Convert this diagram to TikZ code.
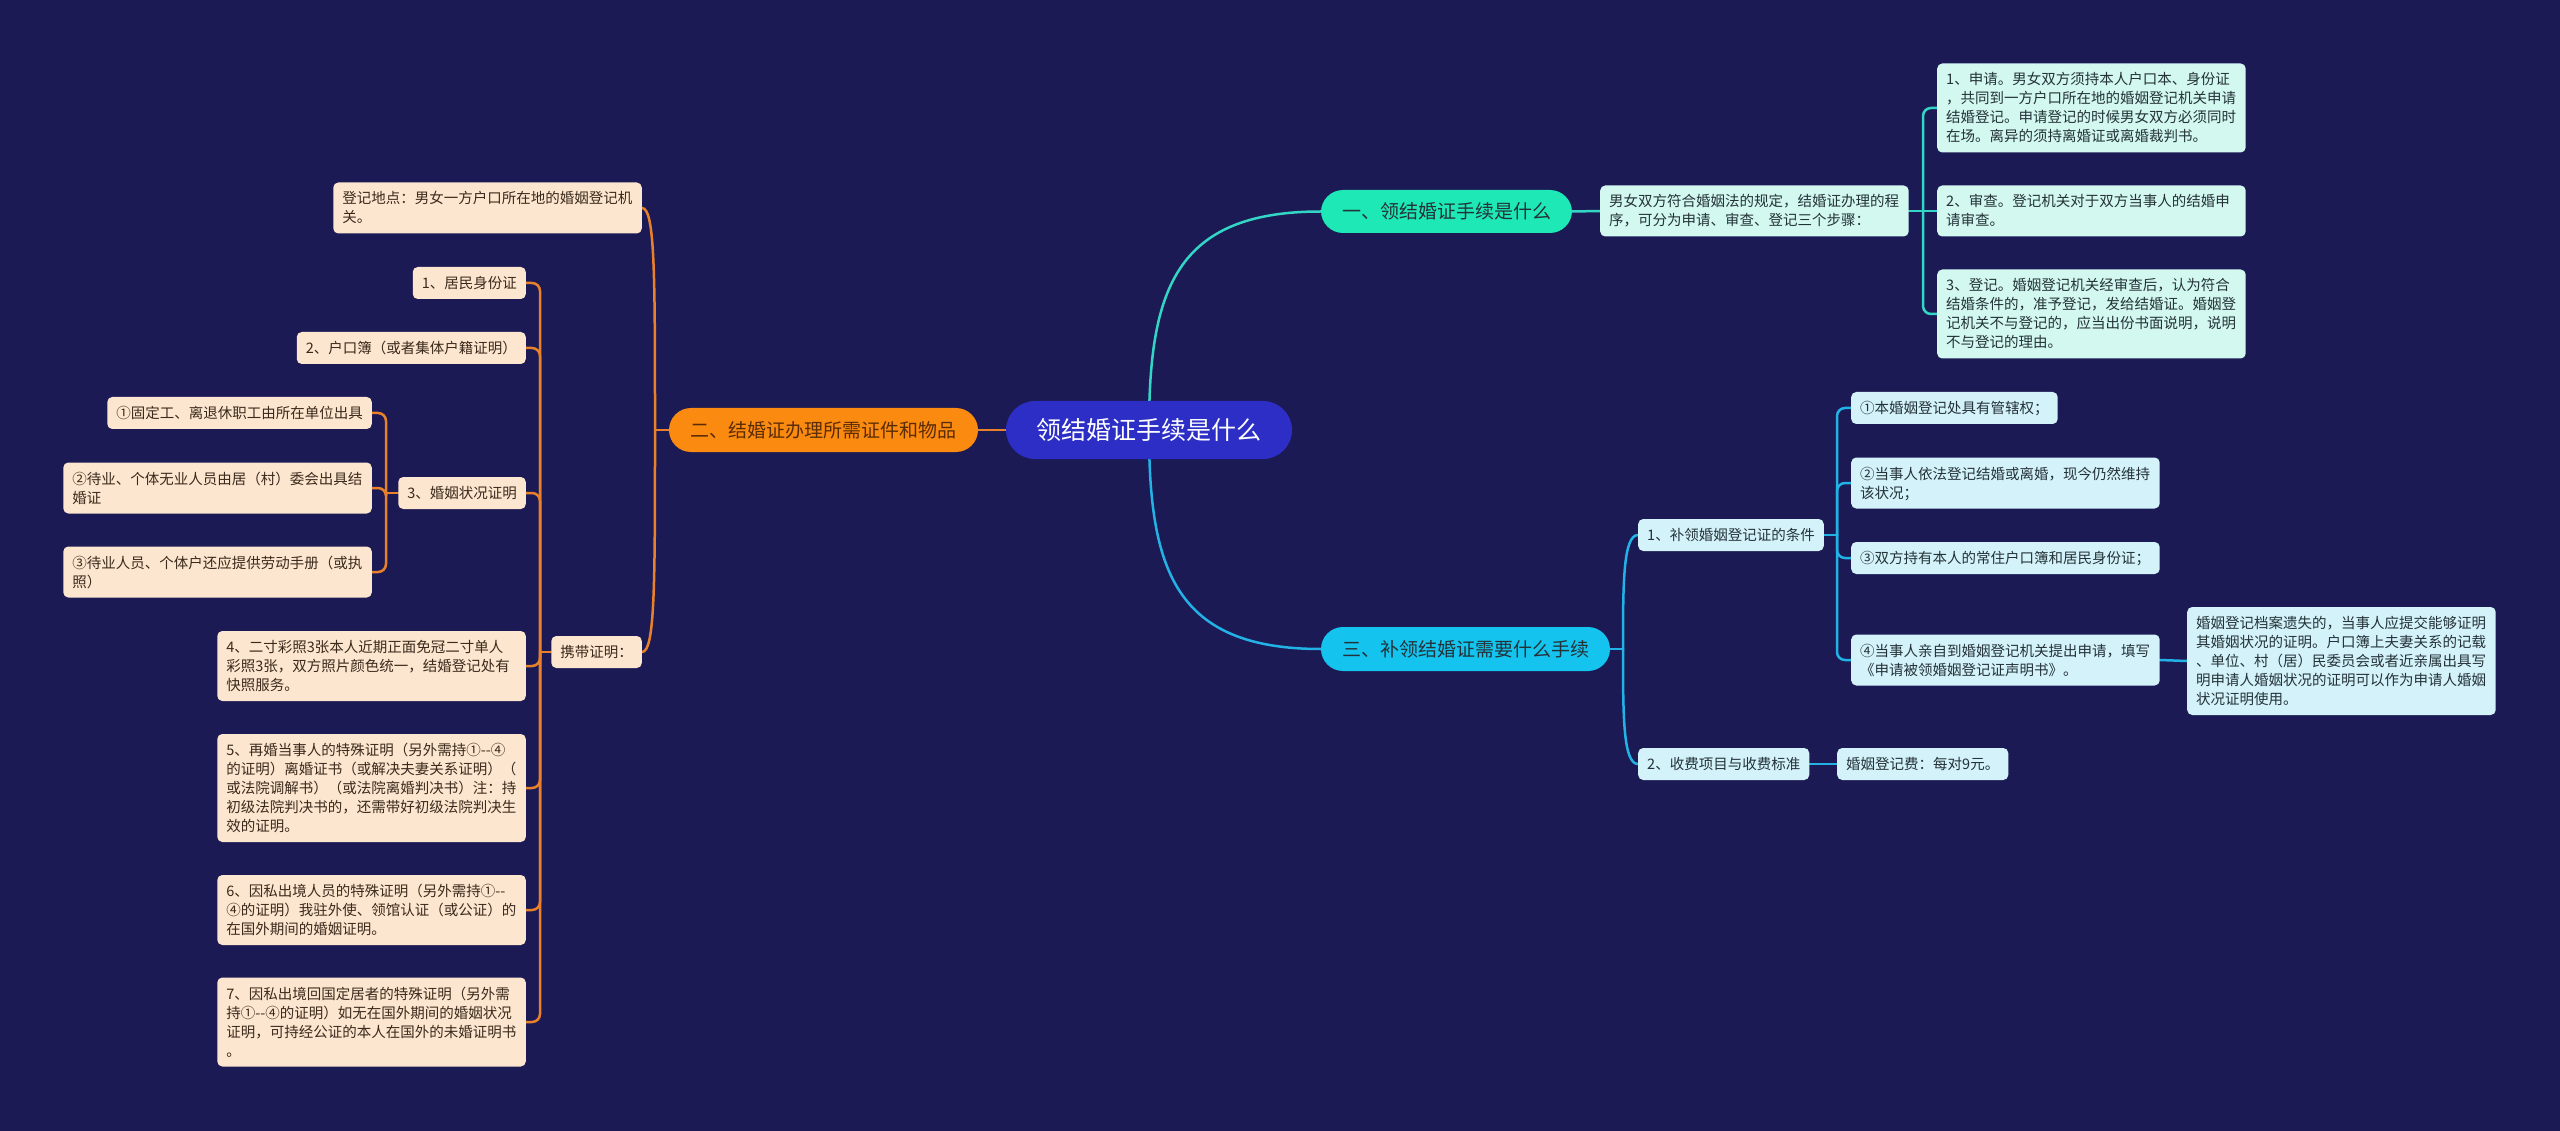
\documentclass[tikz,border=0pt]{standalone}
\usepackage{fontspec}
\setmainfont{Noto Sans CJK SC}
\pgfdeclarelayer{back}
\pgfdeclarelayer{bg}
\pgfsetlayers{back,bg,main}
\definecolor{bgc}{HTML}{1B1A54}
\definecolor{rootc}{HTML}{2C2EC6}
\definecolor{orc}{HTML}{FB8A10}
\definecolor{orline}{HTML}{E9812C}
\definecolor{peach}{HTML}{FDE6CF}
\definecolor{brownt}{HTML}{3A2A1C}
\definecolor{orantext}{HTML}{5A2C05}
\definecolor{tealc}{HTML}{1DE8B6}
\definecolor{tealline}{HTML}{33D5C5}
\definecolor{mint}{HTML}{D2F8F0}
\definecolor{cyanc}{HTML}{14C4EE}
\definecolor{cyanline}{HTML}{22B2E6}
\definecolor{ice}{HTML}{D4F2FA}
\definecolor{darkt}{HTML}{243238}
\newcommand\lf{\fontsize{14.5pt}{19pt}\selectfont}
\newcommand\zs{\vrule width0pt height15pt depth4pt}
\newcommand\dd{-{}-}
\tikzset{
  leaf/.style={rounded corners=5pt, inner xsep=9pt, inner ysep=6.5pt, font=\lf, align=left, text=darkt},
  mleaf/.style={leaf, text width=290.5pt},
  pleaf/.style={fill=peach, text=brownt},
  tleaf/.style={fill=mint},
  cleaf/.style={fill=ice},
  mainnode/.style={rounded corners=22pt, inner sep=0pt, minimum height=44pt, font=\fontsize{19pt}{22pt}\selectfont},
  conn/.style={line width=2.5pt, line cap=round},
  oline/.style={conn, draw=orline},
  tline/.style={conn, draw=tealline},
  cline/.style={conn, draw=cyanline},
}
\begin{document}
\begin{tikzpicture}[x=1pt,y=-1pt]
\begin{pgfonlayer}{back}
\fill[bgc] (0,0) rectangle (2560,1131);
\end{pgfonlayer}
\useasboundingbox (0,0) rectangle (2560,1131);

% main nodes
\node[mainnode, fill=rootc, text=white, minimum width=286pt, minimum height=58pt, rounded corners=29pt, font=\fontsize{25pt}{28pt}\selectfont] (root) at (1149,430) {领结婚证手续是什么};
\node[mainnode, fill=orc, text=orantext, minimum width=309pt] (org) at (823.5,430) {二、结婚证办理所需证件和物品};
\node[mainnode, fill=tealc, text=darkt, minimum width=251pt, minimum height=43pt] (teal) at (1446.5,211.5) {一、领结婚证手续是什么};
\node[mainnode, fill=cyanc, text=darkt, minimum width=289pt] (cyan) at (1465.5,649) {三、补领结婚证需要什么手续};

% right top
\node[mleaf, tleaf, anchor=west] (rt0) at (1600,211) {\zs 男女双方符合婚姻法的规定，结婚证办理的程\\\zs 序，可分为申请、审查、登记三个步骤：};
\node[mleaf, tleaf, anchor=west] (rt1) at (1937,108) {\zs 1、申请。男女双方须持本人户口本、身份证\\\zs ，共同到一方户口所在地的婚姻登记机关申请\\\zs 结婚登记。申请登记的时候男女双方必须同时\\\zs 在场。离异的须持离婚证或离婚裁判书。};
\node[mleaf, tleaf, anchor=west] (rt2) at (1937,211) {\zs 2、审查。登记机关对于双方当事人的结婚申\\\zs 请审查。};
\node[mleaf, tleaf, anchor=west] (rt3) at (1937,314) {\zs 3、登记。婚姻登记机关经审查后，认为符合\\\zs 结婚条件的，准予登记，发给结婚证。婚姻登\\\zs 记机关不与登记的，应当出份书面说明，说明\\\zs 不与登记的理由。};

% right bottom
\node[leaf, cleaf, anchor=west] (bl1) at (1638,535) {\zs 1、补领婚姻登记证的条件};
\node[leaf, cleaf, anchor=west] (c1) at (1851,408) {\zs ①本婚姻登记处具有管辖权；};
\node[mleaf, cleaf, anchor=west] (c2) at (1851,483) {\zs ②当事人依法登记结婚或离婚，现今仍然维持\\\zs 该状况；};
\node[mleaf, cleaf, anchor=west] (c3) at (1851,558) {\zs ③双方持有本人的常住户口簿和居民身份证；};
\node[mleaf, cleaf, anchor=west] (c4) at (1851,660) {\zs ④当事人亲自到婚姻登记机关提出申请，填写\\\zs 《申请被领婚姻登记证声明书》。};
\node[mleaf, cleaf, anchor=west] (far) at (2187,661) {\zs 婚姻登记档案遗失的，当事人应提交能够证明\\\zs 其婚姻状况的证明。户口簿上夫妻关系的记载\\\zs 、单位、村（居）民委员会或者近亲属出具写\\\zs 明申请人婚姻状况的证明可以作为申请人婚姻\\\zs 状况证明使用。};
\node[leaf, cleaf, anchor=west] (bl2) at (1638,764) {\zs 2、收费项目与收费标准};
\node[leaf, cleaf, anchor=west] (fee) at (1837,764) {\zs 婚姻登记费：每对9元。};

% left
\node[mleaf, pleaf, anchor=east] (dj) at (642,208) {\zs 登记地点：男女一方户口所在地的婚姻登记机\\\zs 关。};
\node[leaf, pleaf, anchor=east] (xd) at (642,652) {\zs 携带证明：};
\node[leaf, pleaf, anchor=east] (a1) at (526,283) {\zs 1、居民身份证};
\node[leaf, pleaf, anchor=east] (a2) at (526,348) {\zs 2、户口簿（或者集体户籍证明）};
\node[leaf, pleaf, anchor=east] (a3) at (526,493) {\zs 3、婚姻状况证明};
\node[leaf, pleaf, anchor=east] (s1) at (372,413) {\zs ①固定工、离退休职工由所在单位出具};
\node[mleaf, pleaf, anchor=east] (s2) at (372,488) {\zs ②待业、个体无业人员由居（村）委会出具结\\\zs 婚证};
\node[mleaf, pleaf, anchor=east] (s3) at (372,572) {\zs ③待业人员、个体户还应提供劳动手册（或执\\\zs 照）};
\node[mleaf, pleaf, anchor=east] (a4) at (526,666) {\zs 4、二寸彩照3张本人近期正面免冠二寸单人\\\zs 彩照3张，双方照片颜色统一，结婚登记处有\\\zs 快照服务。};
\node[mleaf, pleaf, anchor=east] (a5) at (526,788) {\zs 5、再婚当事人的特殊证明（另外需持①\dd④\\\zs 的证明）离婚证书（或解决夫妻关系证明）（\\\zs 或法院调解书）（或法院离婚判决书）注：持\\\zs 初级法院判决书的，还需带好初级法院判决生\\\zs 效的证明。};
\node[mleaf, pleaf, anchor=east] (a6) at (526,910) {\zs 6、因私出境人员的特殊证明（另外需持①\dd\\\zs ④的证明）我驻外使、领馆认证（或公证）的\\\zs 在国外期间的婚姻证明。};
\node[mleaf, pleaf, anchor=east] (a7) at (526,1022) {\zs 7、因私出境回国定居者的特殊证明（另外需\\\zs 持①\dd④的证明）如无在国外期间的婚姻状况\\\zs 证明，可持经公证的本人在国外的未婚证明书\\\zs 。};

\coordinate (ov) at (655,430);
\coordinate (xv) at (540,652);
\coordinate (hv) at (386,493);
\coordinate (tv) at (1923,211);
\coordinate (cv) at (1623,649);
\coordinate (bv) at (1837,535);

\begin{pgfonlayer}{bg}
% root links
\draw[tline] (root.center) .. controls (1149,290) and (1175,211.5) .. (teal.west);
\draw[cline] (root.center) .. controls (1149,570) and (1175,649) .. (cyan.west);
\draw[oline] (root.west) -- (org.east);
% orange branch
\draw[oline] (org.west) -- (ov);
\draw[oline] (ov) .. controls (655,275) and (655,208) .. (dj.east);
\draw[oline] (ov) .. controls (655,585) and (655,652) .. (xd.east);
\draw[oline] (xd.west) -- (xv);
\foreach \n in {a1,a2,a3,a4,a5,a6,a7}
  \draw[oline, rounded corners=8pt] (xv) |- (\n.east);
\draw[oline] (a3.west) -- (hv);
\foreach \n in {s1,s2,s3}
  \draw[oline, rounded corners=8pt] (hv) |- (\n.east);
% teal branch
\draw[tline] (teal.east) -- (rt0.west);
\draw[tline] (rt0.east) -- (rt2.west);
\foreach \n in {rt1,rt3}
  \draw[tline, rounded corners=8pt] (tv) |- (\n.west);
% cyan branch
\draw[cline] (cyan.east) -- (cv);
\draw[cline] (cv) .. controls (1623,585) and (1623,535) .. (bl1.west);
\draw[cline] (cv) .. controls (1623,715) and (1623,764) .. (bl2.west);
\draw[cline] (bl1.east) -- (bv);
\foreach \n in {c1,c2,c3,c4}
  \draw[cline, rounded corners=8pt] (bv) |- (\n.west);
\draw[cline] (c4.east) -- (far.west);
\draw[cline] (bl2.east) -- (fee.west);
\end{pgfonlayer}
\end{tikzpicture}
\end{document}
